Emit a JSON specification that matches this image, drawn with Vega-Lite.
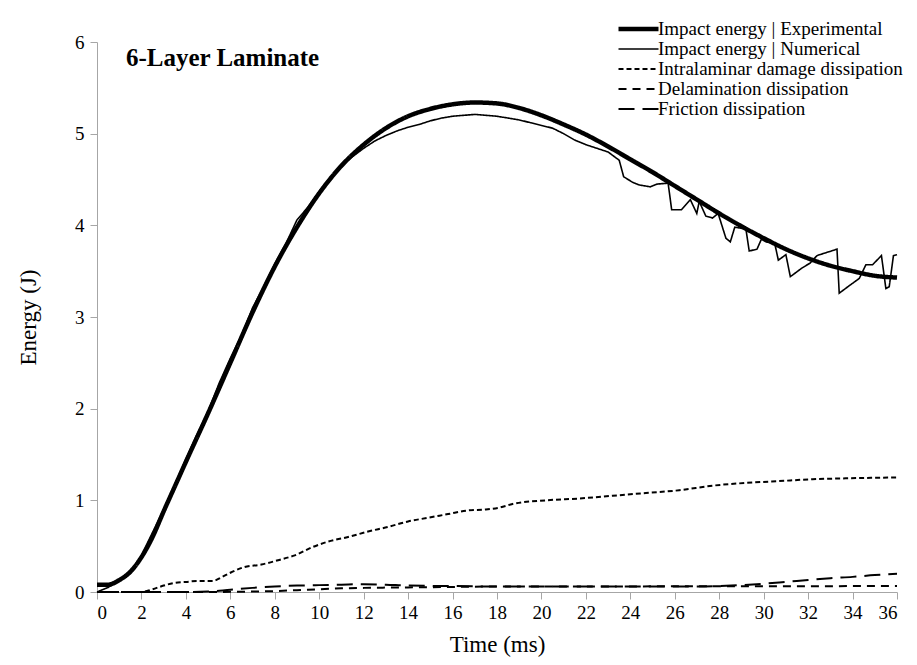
{
  "$schema": "https://vega.github.io/schema/vega-lite/v6.json",
  "width": 800,
  "height": 550,
  "autosize": {"type": "none"},
  "padding": {"left": 97, "top": 42, "right": 20, "bottom": 73},
  "background": "white",
  "config": {
    "view": {"stroke": null},
    "font": "Liberation Serif",
    "axis": {
      "domainColor": "#a6a6a6",
      "tickColor": "#a6a6a6",
      "grid": false,
      "labelColor": "black",
      "titleColor": "black",
      "labelFont": "Liberation Serif",
      "titleFont": "Liberation Serif",
      "labelFontSize": 19,
      "titleFontSize": 23,
      "titleFontWeight": "normal"
    },
    "legend": {
      "labelFont": "Liberation Serif",
      "labelFontSize": 19,
      "labelColor": "black",
      "labelLimit": 0
    }
  },
  "datasets": {
    "experimental": [
      {"t": 0, "E": 0.08}, {"t": 0.5, "E": 0.08}, {"t": 1, "E": 0.13}, {"t": 1.5, "E": 0.22},
      {"t": 2, "E": 0.38}, {"t": 2.5, "E": 0.6}, {"t": 3, "E": 0.88}, {"t": 3.5, "E": 1.15},
      {"t": 4, "E": 1.42}, {"t": 5, "E": 1.95}, {"t": 6, "E": 2.5}, {"t": 7, "E": 3.05},
      {"t": 8, "E": 3.55}, {"t": 9, "E": 3.98}, {"t": 10, "E": 4.35}, {"t": 11, "E": 4.65},
      {"t": 12, "E": 4.88}, {"t": 13, "E": 5.06}, {"t": 14, "E": 5.19}, {"t": 15, "E": 5.27},
      {"t": 16, "E": 5.32}, {"t": 17, "E": 5.34}, {"t": 18, "E": 5.33}, {"t": 19, "E": 5.28},
      {"t": 20, "E": 5.2}, {"t": 21, "E": 5.1}, {"t": 22, "E": 4.99}, {"t": 23, "E": 4.86},
      {"t": 24, "E": 4.72}, {"t": 25, "E": 4.58}, {"t": 26, "E": 4.43}, {"t": 27, "E": 4.28},
      {"t": 28, "E": 4.13}, {"t": 29, "E": 3.99}, {"t": 30, "E": 3.86}, {"t": 31, "E": 3.74},
      {"t": 32, "E": 3.64}, {"t": 33, "E": 3.56}, {"t": 34, "E": 3.5}, {"t": 35, "E": 3.45},
      {"t": 36, "E": 3.43}
    ],
    "numerical": [
      {"t": 0, "E": 0.0}, {"t": 0.5, "E": 0.05}, {"t": 1, "E": 0.12}, {"t": 1.5, "E": 0.22},
      {"t": 2, "E": 0.4}, {"t": 2.5, "E": 0.65}, {"t": 3, "E": 0.9}, {"t": 3.5, "E": 1.17},
      {"t": 4, "E": 1.45}, {"t": 4.5, "E": 1.72}, {"t": 5, "E": 1.97}, {"t": 5.5, "E": 2.28},
      {"t": 6, "E": 2.55}, {"t": 6.5, "E": 2.8}, {"t": 7, "E": 3.1}, {"t": 7.5, "E": 3.33},
      {"t": 8, "E": 3.58}, {"t": 8.5, "E": 3.8}, {"t": 9, "E": 4.06}, {"t": 9.5, "E": 4.2},
      {"t": 10, "E": 4.37}, {"t": 10.5, "E": 4.52}, {"t": 11, "E": 4.65}, {"t": 11.5, "E": 4.75},
      {"t": 12, "E": 4.84}, {"t": 12.5, "E": 4.92}, {"t": 13, "E": 4.98}, {"t": 13.5, "E": 5.03},
      {"t": 14, "E": 5.07}, {"t": 14.5, "E": 5.1}, {"t": 15, "E": 5.14}, {"t": 15.5, "E": 5.17},
      {"t": 16, "E": 5.19}, {"t": 16.5, "E": 5.2}, {"t": 17, "E": 5.21}, {"t": 17.5, "E": 5.2},
      {"t": 18, "E": 5.19}, {"t": 18.5, "E": 5.17}, {"t": 19, "E": 5.15}, {"t": 19.5, "E": 5.12},
      {"t": 20, "E": 5.09}, {"t": 20.5, "E": 5.06}, {"t": 21, "E": 5.0}, {"t": 21.5, "E": 4.93},
      {"t": 22, "E": 4.88}, {"t": 22.5, "E": 4.84}, {"t": 23, "E": 4.8}, {"t": 23.5, "E": 4.71},
      {"t": 23.7, "E": 4.53}, {"t": 24.1, "E": 4.47}, {"t": 24.4, "E": 4.44}, {"t": 24.9, "E": 4.42},
      {"t": 25.2, "E": 4.45}, {"t": 25.7, "E": 4.46}, {"t": 25.86, "E": 4.17}, {"t": 26.3, "E": 4.17},
      {"t": 26.7, "E": 4.28}, {"t": 26.99, "E": 4.13}, {"t": 27.1, "E": 4.26}, {"t": 27.4, "E": 4.1},
      {"t": 27.7, "E": 4.08}, {"t": 27.95, "E": 4.13}, {"t": 28.3, "E": 3.86}, {"t": 28.5, "E": 3.82},
      {"t": 28.7, "E": 3.98}, {"t": 29.2, "E": 3.96}, {"t": 29.35, "E": 3.72}, {"t": 29.7, "E": 3.74},
      {"t": 29.9, "E": 3.85}, {"t": 30.1, "E": 3.82}, {"t": 30.5, "E": 3.8}, {"t": 30.66, "E": 3.62},
      {"t": 31.0, "E": 3.68}, {"t": 31.2, "E": 3.44}, {"t": 31.7, "E": 3.53}, {"t": 32.1, "E": 3.59},
      {"t": 32.4, "E": 3.67}, {"t": 33.3, "E": 3.74}, {"t": 33.4, "E": 3.26}, {"t": 33.9, "E": 3.35},
      {"t": 34.3, "E": 3.42}, {"t": 34.6, "E": 3.57}, {"t": 34.9, "E": 3.57}, {"t": 35.3, "E": 3.67},
      {"t": 35.5, "E": 3.31}, {"t": 35.65, "E": 3.33}, {"t": 35.84, "E": 3.67}, {"t": 36, "E": 3.68}
    ],
    "intralaminar": [
      {"t": 0, "E": 0}, {"t": 2, "E": 0}, {"t": 2.5, "E": 0.03}, {"t": 3, "E": 0.07},
      {"t": 3.5, "E": 0.1}, {"t": 4, "E": 0.11}, {"t": 4.5, "E": 0.12}, {"t": 5.2, "E": 0.12},
      {"t": 5.6, "E": 0.16}, {"t": 6, "E": 0.21}, {"t": 6.6, "E": 0.27}, {"t": 7.4, "E": 0.3},
      {"t": 8.2, "E": 0.35}, {"t": 8.9, "E": 0.4}, {"t": 9.7, "E": 0.49}, {"t": 10.4, "E": 0.55},
      {"t": 11.3, "E": 0.6}, {"t": 12.2, "E": 0.66}, {"t": 13.1, "E": 0.71}, {"t": 14, "E": 0.77},
      {"t": 14.9, "E": 0.81}, {"t": 15.8, "E": 0.85}, {"t": 16.7, "E": 0.89}, {"t": 17.5, "E": 0.9},
      {"t": 18.1, "E": 0.92}, {"t": 18.7, "E": 0.96}, {"t": 20.2, "E": 1.0}, {"t": 21.7, "E": 1.02},
      {"t": 23.2, "E": 1.05}, {"t": 24.7, "E": 1.08}, {"t": 26.2, "E": 1.11}, {"t": 27.7, "E": 1.16},
      {"t": 29.2, "E": 1.19}, {"t": 30.7, "E": 1.21}, {"t": 32.2, "E": 1.23}, {"t": 33.7, "E": 1.24},
      {"t": 36, "E": 1.25}
    ],
    "delamination": [
      {"t": 0, "E": 0}, {"t": 5, "E": 0}, {"t": 7, "E": 0.005}, {"t": 8, "E": 0.01},
      {"t": 9, "E": 0.02}, {"t": 10, "E": 0.03}, {"t": 11, "E": 0.04}, {"t": 12, "E": 0.045},
      {"t": 14, "E": 0.05}, {"t": 16, "E": 0.055}, {"t": 18, "E": 0.06}, {"t": 22, "E": 0.06},
      {"t": 26, "E": 0.062}, {"t": 30, "E": 0.063}, {"t": 36, "E": 0.065}
    ],
    "friction": [
      {"t": 0, "E": 0}, {"t": 4, "E": 0}, {"t": 5, "E": 0.005}, {"t": 6, "E": 0.025},
      {"t": 7, "E": 0.045}, {"t": 8, "E": 0.06}, {"t": 9, "E": 0.07}, {"t": 10, "E": 0.075},
      {"t": 11, "E": 0.08}, {"t": 12, "E": 0.085}, {"t": 13, "E": 0.08}, {"t": 14, "E": 0.07},
      {"t": 16, "E": 0.065}, {"t": 18, "E": 0.06}, {"t": 20, "E": 0.06}, {"t": 22, "E": 0.06},
      {"t": 24, "E": 0.06}, {"t": 26, "E": 0.06}, {"t": 27, "E": 0.06}, {"t": 28, "E": 0.065},
      {"t": 29, "E": 0.075}, {"t": 30, "E": 0.09}, {"t": 31, "E": 0.11}, {"t": 32, "E": 0.13},
      {"t": 33, "E": 0.15}, {"t": 34, "E": 0.165}, {"t": 35, "E": 0.185}, {"t": 36, "E": 0.2}
    ],
    "label": [{"t": 1.3, "E": 5.74, "text": "6-Layer Laminate"}]
  },
  "layer": [
    {
      "data": {"name": "experimental"},
      "transform": [{"calculate": "'Impact energy | Experimental'", "as": "series"}],
      "mark": {"type": "line", "interpolate": "monotone", "color": "black", "strokeWidth": 4.5},
      "encoding": {
        "x": {
          "field": "t", "type": "quantitative",
          "scale": {"domain": [0, 36], "nice": false},
          "axis": {
            "title": "Time (ms)",
            "values": [0,1,2,3,4,5,6,7,8,9,10,11,12,13,14,15,16,17,18,19,20,21,22,23,24,25,26,27,28,29,30,31,32,33,34,35,36],
            "labelExpr": "datum.value % 2 === 0 ? datum.label : ''",
            "tickSize": {"condition": {"test": "datum.value % 2 === 0", "value": 7}, "value": 5},
            "labelPadding": 4,
            "titlePadding": 11
          }
        },
        "y": {
          "field": "E", "type": "quantitative",
          "scale": {"domain": [0, 6], "nice": false},
          "axis": {
            "title": "Energy (J)",
            "format": "d",
            "values": [0,0.5,1,1.5,2,2.5,3,3.5,4,4.5,5,5.5,6],
            "labelExpr": "datum.value % 1 === 0 ? datum.label : ''",
            "tickSize": {"condition": {"test": "datum.value % 1 === 0", "value": 7}, "value": 5},
            "labelPadding": 6,
            "titlePadding": 34
          }
        },
        "strokeDash": {
          "field": "series", "type": "nominal",
          "scale": {
            "domain": ["Impact energy | Experimental", "Impact energy | Numerical", "Intralaminar damage dissipation", "Delamination dissipation", "Friction dissipation"],
            "range": [[1, 0], [1, 0], [5, 3], [8, 6], [16, 8]]
          },
          "legend": {
            "title": null,
            "orient": "none",
            "legendX": 532,
            "legendY": -22.5,
            "symbolType": "stroke",
            "symbolSize": 1600,
            "symbolStrokeColor": "black",
            "rowPadding": -8.5,
            "labelOffset": 10,
            "encode": {
              "symbols": {
                "update": {
                  "strokeWidth": {"signal": "datum.value === 'Impact energy | Experimental' ? 4.5 : datum.value === 'Impact energy | Numerical' ? 1.6 : 2"}
                }
              }
            }
          }
        }
      }
    },
    {
      "data": {"name": "intralaminar"},
      "transform": [{"calculate": "'Intralaminar damage dissipation'", "as": "series"}],
      "mark": {"type": "line", "interpolate": "monotone", "color": "black", "strokeWidth": 2},
      "encoding": {
        "x": {"field": "t", "type": "quantitative"},
        "y": {"field": "E", "type": "quantitative"},
        "strokeDash": {"field": "series", "type": "nominal"}
      }
    },
    {
      "data": {"name": "delamination"},
      "transform": [{"calculate": "'Delamination dissipation'", "as": "series"}],
      "mark": {"type": "line", "interpolate": "monotone", "color": "black", "strokeWidth": 2},
      "encoding": {
        "x": {"field": "t", "type": "quantitative"},
        "y": {"field": "E", "type": "quantitative"},
        "strokeDash": {"field": "series", "type": "nominal"}
      }
    },
    {
      "data": {"name": "friction"},
      "transform": [{"calculate": "'Friction dissipation'", "as": "series"}],
      "mark": {"type": "line", "interpolate": "monotone", "color": "black", "strokeWidth": 2},
      "encoding": {
        "x": {"field": "t", "type": "quantitative"},
        "y": {"field": "E", "type": "quantitative"},
        "strokeDash": {"field": "series", "type": "nominal"}
      }
    },
    {
      "data": {"name": "numerical"},
      "transform": [{"calculate": "'Impact energy | Numerical'", "as": "series"}],
      "mark": {"type": "line", "color": "black", "strokeWidth": 1.6},
      "encoding": {
        "x": {"field": "t", "type": "quantitative"},
        "y": {"field": "E", "type": "quantitative"},
        "strokeDash": {"field": "series", "type": "nominal"}
      }
    },
    {
      "data": {"name": "label"},
      "mark": {"type": "text", "align": "left", "baseline": "alphabetic", "fontSize": 25, "fontWeight": "bold", "font": "Liberation Serif", "color": "black"},
      "encoding": {
        "x": {"field": "t", "type": "quantitative"},
        "y": {"field": "E", "type": "quantitative"},
        "text": {"field": "text"}
      }
    }
  ]
}
